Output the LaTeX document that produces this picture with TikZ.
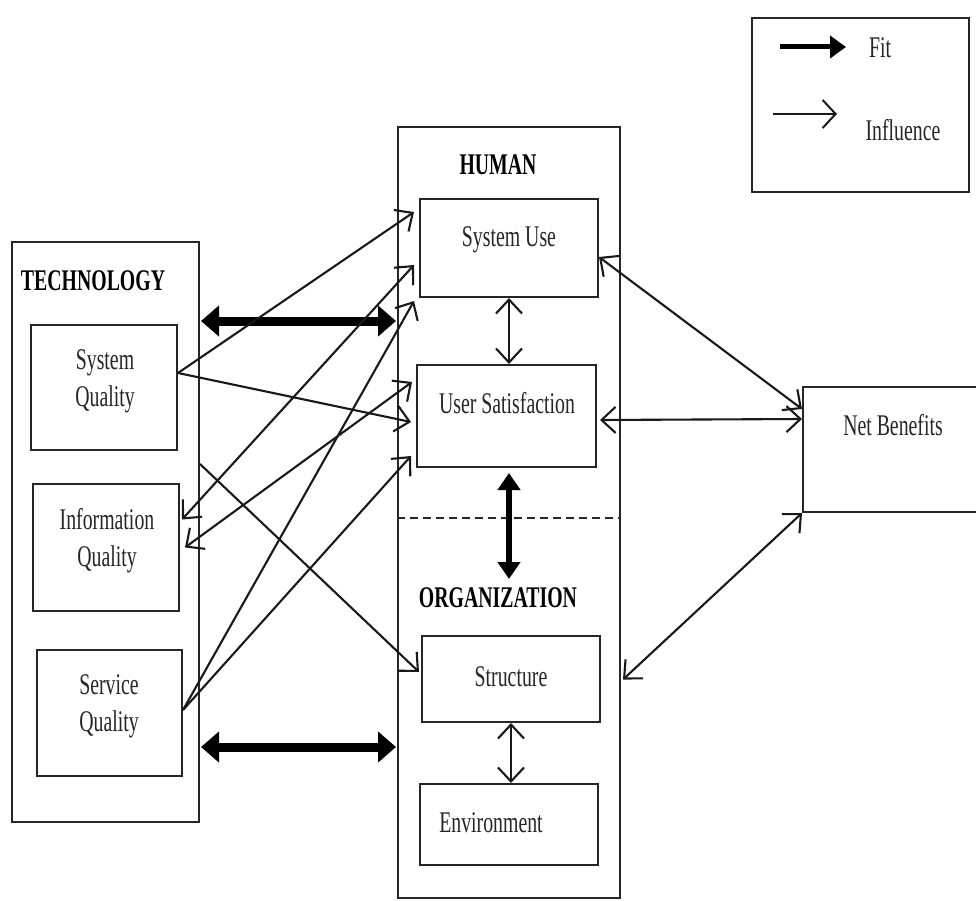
\documentclass[tikz,border=0pt]{standalone}
\usepackage{fontspec}
\setmainfont{Liberation Serif}[FakeStretch=0.66]
\usetikzlibrary{arrows.meta,calc}
\begin{document}
\begin{tikzpicture}[x=1pt,y=-1pt,
  box/.style={draw=black!85, line width=2pt, inner sep=0pt},
  txt/.style={font=\fontsize{30}{37}\selectfont, align=center, inner sep=0pt, text=black!85},
  hdr/.style={font=\fontsize{30}{37}\selectfont\bfseries, inner sep=0pt, text=black},
  infl/.style={draw=black!90, line width=2.1pt, -{Straight Barb[length=14pt,width=26pt,line width=2.1pt]}},
  inflb/.style={draw=black!90, line width=2.1pt, {Straight Barb[length=14pt,width=26pt,line width=2.1pt]}-{Straight Barb[length=14pt,width=26pt,line width=2.1pt]}},
  fitarrow/.style={draw=black, line width=9pt, {Triangle[length=18pt,width=30pt]}-{Triangle[length=18pt,width=30pt]}},
  fitv/.style={draw=black, line width=6pt, {Triangle[length=17pt,width=22pt]}-{Triangle[length=17pt,width=22pt]}}
]
\useasboundingbox (0,0) rectangle (976,901);
\fill[white] (0,0) rectangle (976,901);

% outer boxes
\node[box, minimum width=187pt, minimum height=580pt] (tech) at (105.5,532) {};
\node[box, minimum width=222pt, minimum height=771pt] (col) at (509,512.5) {};
\node[box, minimum width=217pt, minimum height=174pt] (leg) at (860.5,105) {};

% technology
\node[hdr] (techl) at (93,281) {TECHNOLOGY};
\node[box, minimum width=146pt, minimum height=125pt] (sq) at (104,387.5) {};
\node[txt] (sqt) at (105,381) {System\\Quality};
\node[box, minimum width=146pt, minimum height=127pt] (iq) at (106,547.5) {};
\node[txt] (iqt) at (107,541) {Information\\Quality};
\node[box, minimum width=145pt, minimum height=126pt] (svq) at (109.5,713) {};
\node[txt] (svqt) at (109,706) {Service\\Quality};

% human
\node[hdr] (hum) at (498,165) {HUMAN};
\node[box, minimum width=178pt, minimum height=98pt] (su) at (509,248) {};
\node[txt] (sut) at (509,240) {System Use};
\node[box, minimum width=179pt, minimum height=102pt] (us) at (506.5,416) {};
\node[txt] (ust) at (507,403) {User Satisfaction};

% organization
\draw[black!85, line width=2pt, dash pattern=on 8pt off 5pt]
  ($(col.north west)+(0,392)$) -- ($(col.north east)+(0,392)$);
\node[hdr] (org) at (498,598) {ORGANIZATION};
\node[box, minimum width=178pt, minimum height=86pt] (str) at (511,679) {};
\node[txt] (strt) at (511,677) {Structure};
\node[box, minimum width=178pt, minimum height=81pt] (env) at (509,824.5) {};
\node[txt] (envt) at (491,823) {Environment};

% net benefits
\node[box, minimum width=187pt, minimum height=125pt] (nb) at (896.5,449.5) {};
\node[txt] (nbt) at (893,425) {Net Benefits};

% legend
\coordinate (fa) at (780,47);
\coordinate (fb) at (846,47);
\coordinate (ia) at (773,114);
\coordinate (ib) at (837,114);
\draw[draw=black, line width=5pt, -{Triangle[length=16pt,width=22pt]}] (fa) -- (fb);
\draw[draw=black!90, line width=2pt, -{Straight Barb[length=13pt,width=28pt,line width=2pt]}] (ia) -- (ib);
\node[txt] (fitt) at (880,48) {Fit};
\node[txt] (inft) at (903,130) {Influence};

% fit arrows
\draw[fitarrow] ($(tech.north east)+(1,80)$) -- ($(col.north west)+(-1,195)$);
\draw[fitarrow] ($(tech.north east)+(1,506)$) -- ($(col.north west)+(-1,621)$);
\draw[fitv] ($(us.south)+(2.5,5)$) -- ($(us.south)+(2.5,111)$);

% influence arrows
\draw[inflb] (su.south) -- (su.south |- us.north);
\draw[inflb] (str.south) -- (str.south |- env.north);
\draw[inflb] ($(su.east)+(0,9)$) -- ($(nb.north west)+(0,23)$);
\draw[inflb] ($(us.east)+(3,4)$) -- ($(nb.north west)+(0,33)$);
\draw[inflb] (nb.south west) -- ($(col.east)+(2,167)$);
\draw[inflb] ($(iq.east)+(2,-28)$) -- ($(su.west)+(-5,17)$);
\draw[inflb] ($(iq.east)+(5,0)$) -- ($(us.west)+(-4,-34)$);
\draw[infl] ($(sq.east)+(0,-14.5)$) -- ($(su.west)+(-5,-36)$);
\draw[infl] ($(sq.east)+(0,-14.5)$) -- ($(us.west)+(-5,6)$);
\draw[infl] ($(svq.east)+(0,-3)$) -- ($(su.south west)+(-5,3)$);
\draw[infl] ($(svq.east)+(0,-3)$) -- ($(us.south west)+(-5,-12)$);
\draw[infl] ($(tech.north east)+(0,223)$) -- ($(str.west)+(-2,-7)$);
\end{tikzpicture}
\end{document}
